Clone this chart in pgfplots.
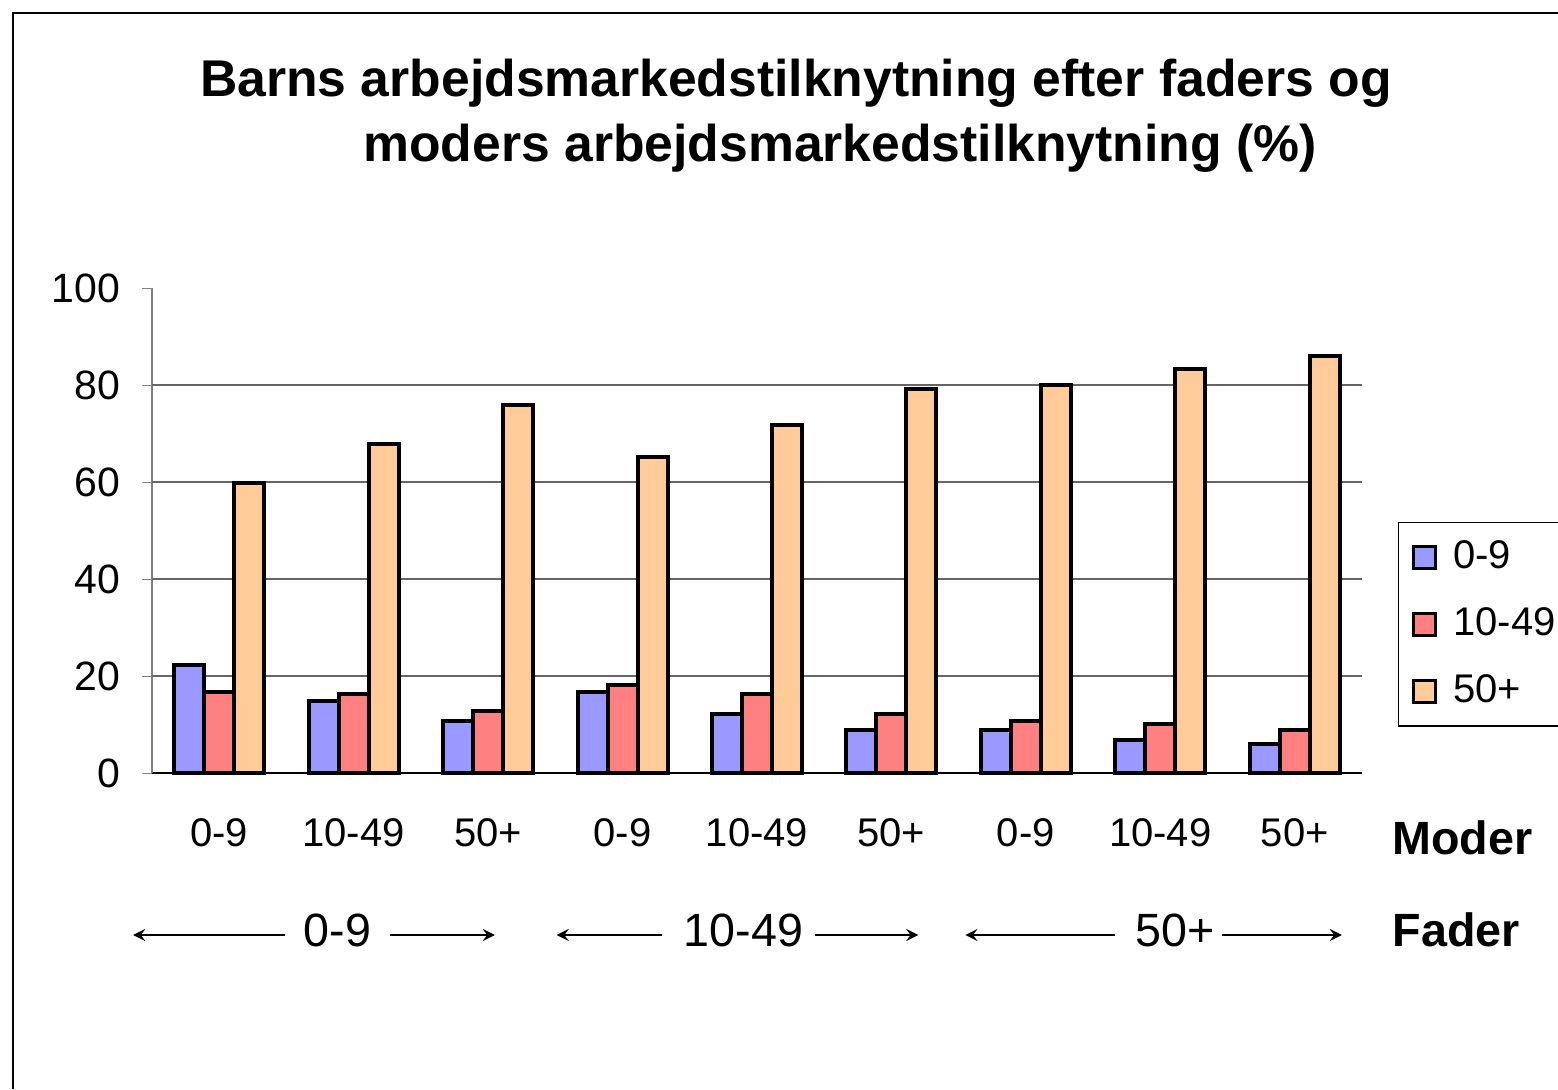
\documentclass[border=0pt]{standalone}
\usepackage{pgfplots}
\pgfplotsset{compat=1.18}
\usepackage{fontspec}
\setmainfont{Liberation Sans}

\definecolor{barblue}{HTML}{9999FF}
\definecolor{barred}{HTML}{FF8080}
\definecolor{barorange}{HTML}{FFCC99}

% x: category (moder within fader group), y: percent
\pgfplotstableread{
x y
0 22.3
1 14.8
2 10.7
3 16.7
4 12.2
5 8.9
6 8.9
7 6.8
8 6.0
}\moderlow
\pgfplotstableread{
x y
0 16.7
1 16.3
2 12.8
3 18.1
4 16.3
5 12.2
6 10.7
7 10.1
8 8.9
}\modermid
\pgfplotstableread{
x y
0 59.8
1 67.8
2 75.9
3 65.2
4 71.8
5 79.2
6 80.0
7 83.3
8 86.0
}\moderhigh

\begin{document}
\begin{tikzpicture}[x=1pt,y=1pt]
\begin{axis}[
    scale only axis, width=363pt, height=145.5pt,
    xmin=-0.5, xmax=8.5, ymin=0, ymax=100,
    clip=false,
    axis lines=left, axis line style={-},
    y axis line style={gray},
    x axis line style={black},
    tick align=outside, major tick length=3pt,
    /pgf/number format/assume math mode=true,
    ytick={0,20,...,100},
    y tick style={gray},
    yticklabel style={font=\fontsize{12.3}{14}\selectfont, xshift=-3pt},
    xtick={0,...,8},
    xticklabels={0-9,10-49,50+,0-9,10-49,50+,0-9,10-49,50+},
    x tick style={draw=none},
    xticklabel style={font=\fontsize{12}{14}\selectfont, yshift=-7pt},
    extra x ticks={-0.5,0.5,...,8.5}, extra x tick labels={},
    extra x tick style={draw=black, major tick length=3.6pt},
    extra y ticks={20,40,60,80}, extra y tick labels={},
    extra y tick style={grid=major, major tick length=0pt},
    grid style={gray!80!black, line width=0.5pt},
    ybar=0pt, bar width=9pt,
    every axis plot/.append style={draw=black, line width=1.2pt},
    legend image code/.code={\draw[#1, line width=0.8pt] (0pt,-3.3pt) rectangle (6.6pt,3.3pt);},
    legend style={at={(rel axis cs:1.0298,0.5175)}, anchor=north west,
        draw=black, line width=0.4pt, font=\fontsize{12}{14}\selectfont,
        row sep=6.2pt, column sep=3pt, inner xsep=4pt, inner ysep=3.5pt,
        nodes={text width=40pt, anchor=west}},
    legend cell align=left,
]
\addplot[fill=barblue] table[x=x,y=y] {\moderlow};
\addplot[fill=barred] table[x=x,y=y] {\modermid};
\addplot[fill=barorange] table[x=x,y=y] {\moderhigh};
\legend{0-9,10-49,50+}

% second row: fader groups
\node[font=\fontsize{14}{16}\selectfont] at (axis cs:0.88,-32.4) {0-9};
\node[font=\fontsize{14}{16}\selectfont] at (axis cs:3.90,-32.4) {10-49};
\node[font=\fontsize{14}{16}\selectfont] at (axis cs:7.11,-32.4) {50+};
\draw[->, >=stealth, line width=0.6pt] (axis cs:0.49,-33.4) -- (axis cs:-0.64,-33.4);
\draw[->, >=stealth, line width=0.6pt] (axis cs:1.27,-33.4) -- (axis cs:2.05,-33.4);
\draw[->, >=stealth, line width=0.6pt] (axis cs:3.29,-33.4) -- (axis cs:2.51,-33.4);
\draw[->, >=stealth, line width=0.6pt] (axis cs:4.43,-33.4) -- (axis cs:5.20,-33.4);
\draw[->, >=stealth, line width=0.6pt] (axis cs:6.66,-33.4) -- (axis cs:5.55,-33.4);
\draw[->, >=stealth, line width=0.6pt] (axis cs:7.46,-33.4) -- (axis cs:8.35,-33.4);
\node[anchor=west, font=\fontsize{14}{16}\selectfont\bfseries] at (axis cs:8.64,-13.4) {Moder};
\node[anchor=west, font=\fontsize{14}{16}\selectfont\bfseries] at (axis cs:8.64,-32.4) {Fader};
\end{axis}

\node[font=\fontsize{15.5}{18}\selectfont\bfseries] at (193.2,207) {Barns arbejdsmarkedstilknytning efter faders og};
\node[font=\fontsize{15.5}{18}\selectfont\bfseries] at (206.4,187.5) {moders arbejdsmarkedstilknytning (\%)};

\draw[line width=0.4pt] (-41.7,-94.8) -- (-41.7,228) -- (421.8,228);
\pgfresetboundingbox
\useasboundingbox (-45.6,-94.8) rectangle (421.8,231.9);
\end{tikzpicture}
\end{document}
